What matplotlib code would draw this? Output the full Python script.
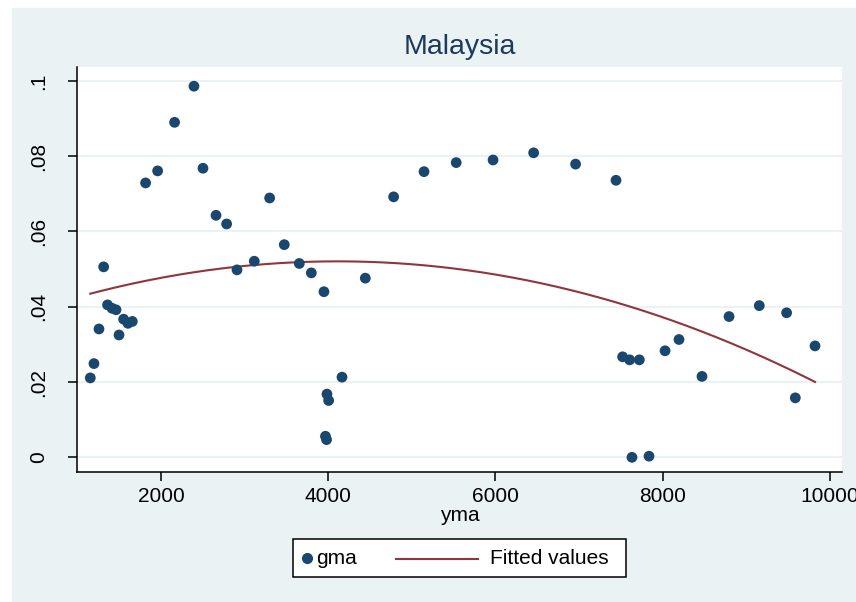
"""
Scatter of gma against yma for Malaysia, with a quadratic fit (Stata s2color look).

Writes out.png.
"""

import numpy as np
import matplotlib
matplotlib.use("Agg")
import matplotlib.pyplot as plt
from matplotlib.lines import Line2D
from matplotlib.patches import Rectangle

plt.rcParams["font.family"] = ["Liberation Sans", "DejaVu Sans"]

# per-capita income (yma) and growth (gma)
yma = [1150, 1194, 1254, 1310, 1357, 1410, 1458, 1494, 1549, 1601, 1653,
       1812, 1956, 2159, 2391, 2499, 2655, 2782, 2906, 3113, 3297, 3472,
       3652, 3796, 3947, 3983, 4003, 3965, 3978, 4163, 4442, 4781, 5145,
       5530, 5971, 6457, 6959, 7443, 7522, 7606, 7722, 7634, 7838, 8030,
       8197, 8472, 8796, 9158, 9485, 9589, 9825]
gma = [0.0211, 0.0249, 0.0341, 0.0506, 0.0405, 0.0396, 0.0392, 0.0325,
       0.0367, 0.0356, 0.0361, 0.0729, 0.0761, 0.0890, 0.0986, 0.0768,
       0.0643, 0.0620, 0.0498, 0.0521, 0.0689, 0.0565, 0.0515, 0.0490,
       0.0440, 0.0168, 0.0151, 0.0056, 0.0047, 0.0213, 0.0476, 0.0692,
       0.0759, 0.0783, 0.0790, 0.0809, 0.0779, 0.0736, 0.0267, 0.0259,
       0.0259, 0.0000, 0.0003, 0.0283, 0.0313, 0.0215, 0.0374, 0.0403,
       0.0384, 0.0158, 0.0296]

x_ticks = [2000, 4000, 6000, 8000, 10000]
y_ticks = [0, 0.02, 0.04, 0.06, 0.08, 0.1]
y_labels = ["0", ".02", ".04", ".06", ".08", ".1"]

NAVY = "#1a476f"
MAROON = "#90353b"
PANEL = "#eaf2f3"

W, H = 856, 602


def fx(px):
    return px / W


def fy(py):
    return 1 - py / H


def main():
    x = np.array(yma, dtype=float)
    y = np.array(gma, dtype=float)

    # quadratic fit, like qfit
    coef = np.polyfit(x, y, 2)
    xs = np.linspace(x.min(), x.max(), 200)
    ys = np.polyval(coef, xs)

    fig = plt.figure(figsize=(W / 100, H / 100), dpi=100, facecolor="white")
    fig.patches.append(Rectangle((fx(12), 0), fx(W - 12), 1 - 8 / H,
                                 transform=fig.transFigure, color=PANEL, zorder=-10))

    ax = fig.add_axes([fx(77), fy(472), fx(842 - 77), (472 - 67) / H])
    ax.set_zorder(1)
    ax.set_facecolor("white")
    ax.scatter(x, y, s=60, color=NAVY, edgecolors="none", zorder=3)
    ax.plot(xs, ys, color=MAROON, lw=1.5, zorder=2)

    ax.set_xlim(991, 10148)
    ax.set_ylim(-0.0039, 0.1037)
    ax.set_xticks(x_ticks)
    ax.set_yticks(y_ticks)
    ax.set_yticklabels(y_labels, rotation=90, va="center")
    ax.grid(axis="y", color=PANEL, lw=1.5, zorder=0)
    ax.set_axisbelow(True)

    for side in ("top", "right"):
        ax.spines[side].set_visible(False)
    for side in ("left", "bottom"):
        ax.spines[side].set_linewidth(1.1)
    ax.tick_params(length=6.5, width=1.1, labelsize=15, direction="out")
    ax.tick_params(axis="x", pad=4)
    ax.tick_params(axis="y", pad=14)

    ax.set_xlabel("yma", fontsize=15, labelpad=0)
    ax.set_title("Malaysia", fontsize=20.5, color="#1c3a5e", pad=9)

    # legend box below the plot
    fig.patches.append(Rectangle((fx(293), fy(577)), fx(626 - 293), (577 - 539) / H,
                                 transform=fig.transFigure, facecolor="white",
                                 edgecolor="black", lw=1.1, zorder=5))
    fig.lines.append(Line2D([fx(307)], [fy(558)], marker="o", ms=7, color=NAVY,
                            ls="", transform=fig.transFigure, zorder=6))
    fig.text(fx(316), fy(558), "gma", fontsize=15, va="center", ha="left", zorder=6)
    fig.lines.append(Line2D([fx(396), fx(478)], [fy(559), fy(559)], color=MAROON,
                            lw=1.5, transform=fig.transFigure, zorder=6))
    fig.text(fx(490), fy(558), "Fitted values", fontsize=15, va="center", ha="left",
             zorder=6)

    fig.savefig("out.png", dpi=100, facecolor=fig.get_facecolor())


if __name__ == "__main__":
    main()
